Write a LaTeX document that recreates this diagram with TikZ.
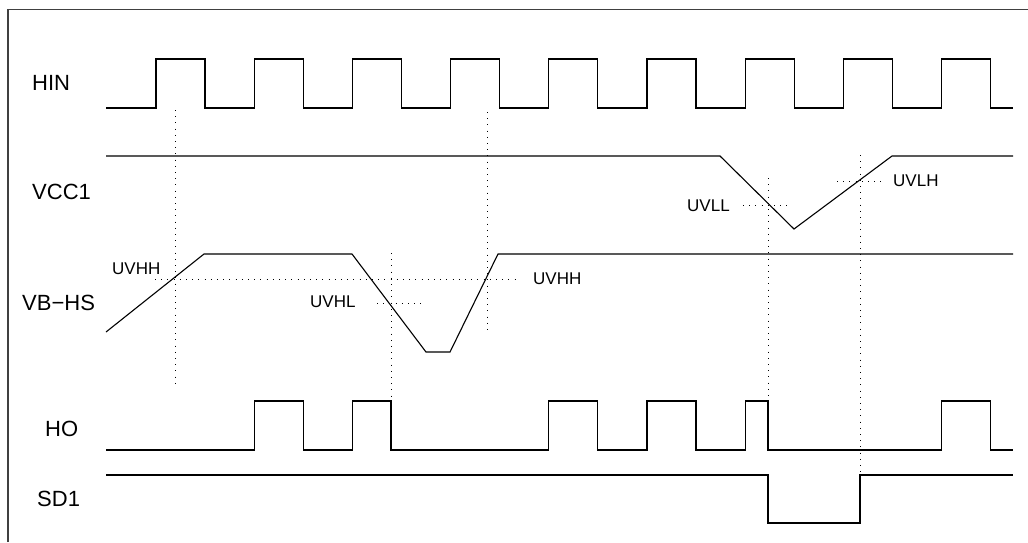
\documentclass[tikz,border=0pt]{standalone}
\usepackage{fontspec}
\setmainfont{Liberation Sans}
\begin{document}
\begin{tikzpicture}[x=1pt,y=-1pt,
    signame/.style={anchor=base west,inner sep=0pt,font=\fontsize{22}{26}\selectfont},
    levelname/.style={anchor=base west,inner sep=0pt,font=\fontsize{17}{20}\selectfont},
    wave/.style={line width=1.1pt},
    guide/.style={line width=0.9pt,dash pattern=on 0.9pt off 5.3pt}]
    \useasboundingbox (0,0) rectangle (1028,542);
    % frame
    \draw[black!75,line width=1.2pt] (8,542) -- (8,9.5) -- (1028,9.5);
    % signal names
    \node[signame] (hin) at (32,90) {HIN};
    \node[signame] (vcc) at (32,199) {VCC1};
    \node[signame] (vbhs) at (22,310) {VB−HS};
    \node[signame] (ho) at (45,436) {HO};
    \node[signame] (sd) at (37,506) {SD1};
    % threshold names
    \node[levelname] (uvhhA) at (112,274) {UVHH};
    \node[levelname] (uvhl) at (310,307) {UVHL};
    \node[levelname] (uvhhB) at (533,284) {UVHH};
    \node[levelname] (uvll) at (687,211) {UVLL};
    \node[levelname] (uvlh) at (893,186) {UVLH};
    % HIN
    \draw[wave] (106,108) \foreach \k in {0,...,8}{
        -- ({156+98.2*\k},108) -- ({156+98.2*\k},59)
        -- ({205+98.2*\k},59) -- ({205+98.2*\k},108)} -- (1013,108);
    % VCC1
    \draw[wave] (106,156) -- (720,156) -- (794,229) -- (892,156) -- (1013,156);
    % VB-HS
    \draw[wave] (106,332) -- (204,254) -- (352,254) -- (426,352) -- (450,352)
        -- (498,254) -- (1013,254);
    % HO
    \draw[wave] (106,450) -- (254.2,450) -- (254.2,401) -- (303.4,401) -- (303.4,450)
        -- (352.4,450) -- (352.4,401) -- (391,401) -- (391,450)
        -- (548.8,450) -- (548.8,401) -- (597.8,401) -- (597.8,450)
        -- (647,450) -- (647,401) -- (696,401) -- (696,450)
        -- (745.2,450) -- (745.2,401) -- (768,401) -- (768,450)
        -- (941.6,450) -- (941.6,401) -- (990.6,401) -- (990.6,450) -- (1013,450);
    % SD1
    \draw[wave] (106,475) -- (768,475) -- (768,523) -- (860,523) -- (860,475) -- (1013,475);
    % thresholds and timing guides
    \draw[guide] (155,279) -- (520,279);
    \draw[guide] (377,303) -- (423,303);
    \draw[guide] (743,205) -- (791,205);
    \draw[guide] (837,181) -- (885,181);
    \draw[guide] (175,110) -- (175,388);
    \draw[guide] (391,253) -- (391,400);
    \draw[guide] (487,112) -- (487,334);
    \draw[guide] (768,178) -- (768,400);
    \draw[guide] (860,155) -- (860,474);
\end{tikzpicture}
\end{document}
